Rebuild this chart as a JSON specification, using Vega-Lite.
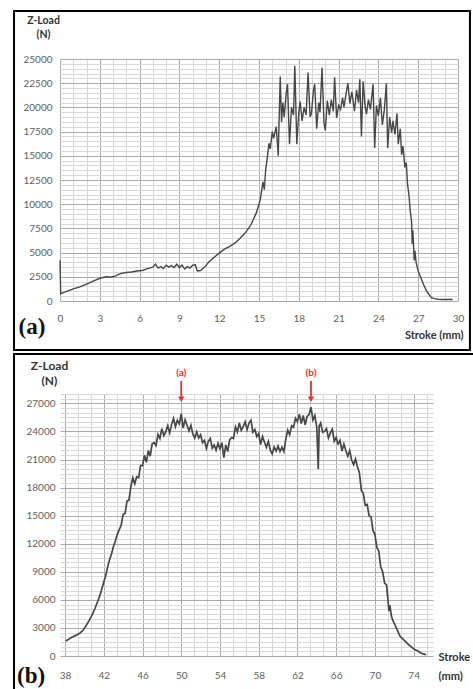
{
  "$schema": "https://vega.github.io/schema/vega-lite/v6.json",
  "background": "white",
  "padding": {"left": 13, "top": 9, "right": 0, "bottom": 0},
  "spacing": 0,
  "align": "none",
  "config": {
    "view": {"stroke": null},
    "font": "Lato",
    "axis": {"labelFont": "Lato", "titleFont": "Lato", "ticks": false, "domain": false, "labelColor": "#5e5e5e", "titleColor": "#333333", "labelFontSize": 10, "labelFlush": false, "labelOverlap": false, "labelBound": false, "gridWidth": 1}
  },
  "datasets": {
    "a": [
      {"x": 0, "y": 4200}, {"x": 0.05, "y": 750}, {"x": 0.3, "y": 900}, {"x": 0.6, "y": 1050}, {"x": 1.0, "y": 1250}, {"x": 1.5, "y": 1450}, {"x": 2.0, "y": 1750}, {"x": 2.5, "y": 2050}, {"x": 3.0, "y": 2350}, {"x": 3.5, "y": 2500}, {"x": 3.8, "y": 2450}, {"x": 4.2, "y": 2600}, {"x": 4.6, "y": 2850}, {"x": 5.0, "y": 2950}, {"x": 5.4, "y": 3000}, {"x": 5.8, "y": 3100}, {"x": 6.2, "y": 3150}, {"x": 6.6, "y": 3350}, {"x": 7.0, "y": 3500}, {"x": 7.2, "y": 3800}, {"x": 7.4, "y": 3400}, {"x": 7.6, "y": 3550}, {"x": 7.8, "y": 3350}, {"x": 8.0, "y": 3700}, {"x": 8.2, "y": 3500}, {"x": 8.4, "y": 3650}, {"x": 8.6, "y": 3450}, {"x": 8.8, "y": 3800}, {"x": 9.0, "y": 3450}, {"x": 9.2, "y": 3700}, {"x": 9.4, "y": 3300}, {"x": 9.6, "y": 3550}, {"x": 9.8, "y": 3400}, {"x": 10.0, "y": 3700}, {"x": 10.2, "y": 3750}, {"x": 10.35, "y": 3100}, {"x": 10.6, "y": 3150}, {"x": 10.9, "y": 3500}, {"x": 11.2, "y": 4000}, {"x": 11.6, "y": 4500}, {"x": 12.0, "y": 4950}, {"x": 12.4, "y": 5350}, {"x": 12.8, "y": 5650}, {"x": 13.2, "y": 6000}, {"x": 13.6, "y": 6500}, {"x": 14.0, "y": 7100}, {"x": 14.4, "y": 7900}, {"x": 14.8, "y": 9100}, {"x": 15.1, "y": 10500}, {"x": 15.3, "y": 12300}, {"x": 15.4, "y": 11500}, {"x": 15.5, "y": 13500}, {"x": 15.6, "y": 14500}, {"x": 15.75, "y": 16300}, {"x": 15.85, "y": 15700}, {"x": 16.0, "y": 17500}, {"x": 16.1, "y": 16800}, {"x": 16.3, "y": 18000}, {"x": 16.45, "y": 15000}, {"x": 16.6, "y": 23200}, {"x": 16.7, "y": 18500}, {"x": 16.8, "y": 20500}, {"x": 16.9, "y": 19000}, {"x": 17.05, "y": 21500}, {"x": 17.15, "y": 22400}, {"x": 17.3, "y": 16200}, {"x": 17.45, "y": 20000}, {"x": 17.6, "y": 19200}, {"x": 17.7, "y": 24300}, {"x": 17.85, "y": 16200}, {"x": 18.0, "y": 19500}, {"x": 18.1, "y": 20600}, {"x": 18.25, "y": 18600}, {"x": 18.4, "y": 20000}, {"x": 18.55, "y": 19200}, {"x": 18.7, "y": 23600}, {"x": 18.85, "y": 19000}, {"x": 18.95, "y": 19300}, {"x": 19.1, "y": 21700}, {"x": 19.2, "y": 22400}, {"x": 19.35, "y": 17800}, {"x": 19.5, "y": 20500}, {"x": 19.6, "y": 19500}, {"x": 19.75, "y": 24100}, {"x": 19.9, "y": 18400}, {"x": 20.0, "y": 17600}, {"x": 20.15, "y": 20700}, {"x": 20.3, "y": 19200}, {"x": 20.45, "y": 20800}, {"x": 20.6, "y": 19600}, {"x": 20.7, "y": 23100}, {"x": 20.85, "y": 18900}, {"x": 21.0, "y": 20200}, {"x": 21.15, "y": 19800}, {"x": 21.3, "y": 21000}, {"x": 21.4, "y": 20000}, {"x": 21.55, "y": 21300}, {"x": 21.7, "y": 22500}, {"x": 21.85, "y": 20400}, {"x": 22.0, "y": 21600}, {"x": 22.2, "y": 19600}, {"x": 22.35, "y": 21800}, {"x": 22.5, "y": 20500}, {"x": 22.6, "y": 22900}, {"x": 22.72, "y": 17000}, {"x": 22.85, "y": 22700}, {"x": 23.0, "y": 20100}, {"x": 23.1, "y": 19300}, {"x": 23.25, "y": 20800}, {"x": 23.4, "y": 19800}, {"x": 23.6, "y": 22400}, {"x": 23.72, "y": 15800}, {"x": 23.85, "y": 20200}, {"x": 24.0, "y": 19100}, {"x": 24.15, "y": 21000}, {"x": 24.3, "y": 18200}, {"x": 24.45, "y": 19800}, {"x": 24.6, "y": 22500}, {"x": 24.7, "y": 15800}, {"x": 24.85, "y": 19000}, {"x": 25.0, "y": 17400}, {"x": 25.1, "y": 18600}, {"x": 25.25, "y": 17200}, {"x": 25.4, "y": 19400}, {"x": 25.5, "y": 16200}, {"x": 25.65, "y": 17800}, {"x": 25.75, "y": 15100}, {"x": 25.85, "y": 16000}, {"x": 26.0, "y": 13800}, {"x": 26.1, "y": 14300}, {"x": 26.2, "y": 12000}, {"x": 26.3, "y": 11000}, {"x": 26.4, "y": 9300}, {"x": 26.5, "y": 8200}, {"x": 26.55, "y": 5900}, {"x": 26.6, "y": 7300}, {"x": 26.7, "y": 4200}, {"x": 26.75, "y": 5200}, {"x": 26.85, "y": 3900}, {"x": 27.0, "y": 3100}, {"x": 27.2, "y": 2400}, {"x": 27.4, "y": 1700}, {"x": 27.6, "y": 1100}, {"x": 27.8, "y": 700}, {"x": 28.0, "y": 350}, {"x": 28.2, "y": 250}, {"x": 28.5, "y": 180}, {"x": 28.8, "y": 160}, {"x": 29.2, "y": 150}, {"x": 29.6, "y": 150}
    ],
    "b": [
      {"x": 38.1, "y": 1600}, {"x": 38.4, "y": 1800}, {"x": 38.7, "y": 2000}, {"x": 39.0, "y": 2150}, {"x": 39.3, "y": 2300}, {"x": 39.6, "y": 2500}, {"x": 39.9, "y": 2800}, {"x": 40.2, "y": 3300}, {"x": 40.5, "y": 3800}, {"x": 40.8, "y": 4400}, {"x": 41.1, "y": 5100}, {"x": 41.4, "y": 5900}, {"x": 41.7, "y": 6800}, {"x": 42.0, "y": 7900}, {"x": 42.2, "y": 8600}, {"x": 42.4, "y": 9500}, {"x": 42.6, "y": 10300}, {"x": 42.8, "y": 10900}, {"x": 43.0, "y": 11700}, {"x": 43.2, "y": 12300}, {"x": 43.4, "y": 13000}, {"x": 43.6, "y": 13500}, {"x": 43.8, "y": 14000},
      {"x": 44.0, "y": 15150}, {"x": 44.2, "y": 15250}, {"x": 44.4, "y": 16550}, {"x": 44.6, "y": 16650}, {"x": 44.8, "y": 18100}, {"x": 45.0, "y": 19050}, {"x": 45.2, "y": 18400}, {"x": 45.4, "y": 19150}, {"x": 45.6, "y": 19050}, {"x": 45.8, "y": 20350}, {"x": 46.0, "y": 20350}, {"x": 46.2, "y": 21450}, {"x": 46.4, "y": 20700}, {"x": 46.6, "y": 21950}, {"x": 46.8, "y": 21350}, {"x": 47.0, "y": 22700}, {"x": 47.2, "y": 22800}, {"x": 47.4, "y": 22500}, {"x": 47.6, "y": 23700}, {"x": 47.8, "y": 23250}, {"x": 48.0, "y": 24300}, {"x": 48.2, "y": 23550}, {"x": 48.4, "y": 23950}, {"x": 48.6, "y": 24600}, {"x": 48.8, "y": 23850}, {"x": 49.0, "y": 24700}, {"x": 49.2, "y": 25400}, {"x": 49.4, "y": 24500}, {"x": 49.6, "y": 25200}, {"x": 49.8, "y": 24800}, {"x": 50.0, "y": 25900}, {"x": 50.2, "y": 24350}, {"x": 50.4, "y": 25250}, {"x": 50.6, "y": 24650}, {"x": 50.8, "y": 24050}, {"x": 51.0, "y": 24650}, {"x": 51.2, "y": 23700}, {"x": 51.4, "y": 23300}, {"x": 51.6, "y": 23950}, {"x": 51.8, "y": 23300}, {"x": 52.0, "y": 23650}, {"x": 52.2, "y": 22800}, {"x": 52.4, "y": 23050}, {"x": 52.6, "y": 22200}, {"x": 52.8, "y": 22950}, {"x": 53.0, "y": 23250}, {"x": 53.2, "y": 22200}, {"x": 53.4, "y": 22550}, {"x": 53.6, "y": 22000}, {"x": 53.8, "y": 22750}, {"x": 54.0, "y": 22150}, {"x": 54.2, "y": 22800}, {"x": 54.4, "y": 21200}, {"x": 54.6, "y": 22550}, {"x": 54.8, "y": 21850}, {"x": 55.0, "y": 23100}, {"x": 55.2, "y": 23350}, {"x": 55.4, "y": 23250}, {"x": 55.6, "y": 24480}, {"x": 55.8, "y": 23950}, {"x": 56.0, "y": 24900}, {"x": 56.2, "y": 24100}, {"x": 56.4, "y": 24500}, {"x": 56.6, "y": 25020}, {"x": 56.8, "y": 24180}, {"x": 57.0, "y": 24900}, {"x": 57.2, "y": 25200}, {"x": 57.4, "y": 23900}, {"x": 57.6, "y": 24200}, {"x": 57.8, "y": 23450}, {"x": 58.0, "y": 23750}, {"x": 58.2, "y": 22600}, {"x": 58.4, "y": 23450}, {"x": 58.6, "y": 22850}, {"x": 58.8, "y": 22300}, {"x": 59.0, "y": 22950}, {"x": 59.2, "y": 22000}, {"x": 59.4, "y": 21600}, {"x": 59.6, "y": 22350}, {"x": 59.8, "y": 21900}, {"x": 60.0, "y": 22450}, {"x": 60.2, "y": 21850}, {"x": 60.4, "y": 22300}, {"x": 60.6, "y": 21850}, {"x": 60.8, "y": 23200}, {"x": 61.0, "y": 24150}, {"x": 61.2, "y": 23650}, {"x": 61.4, "y": 24600}, {"x": 61.6, "y": 24450}, {"x": 61.8, "y": 25400}, {"x": 62.0, "y": 25050}, {"x": 62.2, "y": 25850}, {"x": 62.4, "y": 24850}, {"x": 62.6, "y": 25700}, {"x": 62.8, "y": 24700}, {"x": 63.0, "y": 25600}, {"x": 63.2, "y": 25800}, {"x": 63.4, "y": 26600}, {"x": 63.6, "y": 25200}, {"x": 63.8, "y": 25700}, {"x": 64.0, "y": 24400}, {"x": 64.15, "y": 20000}, {"x": 64.25, "y": 24600}, {"x": 64.4, "y": 24900}, {"x": 64.6, "y": 23900}, {"x": 64.8, "y": 24000}, {"x": 65.0, "y": 24300}, {"x": 65.2, "y": 23300}, {"x": 65.4, "y": 23850}, {"x": 65.6, "y": 24250}, {"x": 65.8, "y": 22950}, {"x": 66.0, "y": 23350}, {"x": 66.2, "y": 22650}, {"x": 66.4, "y": 23050}, {"x": 66.6, "y": 21900}, {"x": 66.8, "y": 22650}, {"x": 67.0, "y": 21950}, {"x": 67.2, "y": 21350}, {"x": 67.4, "y": 21950}, {"x": 67.6, "y": 20950}, {"x": 67.8, "y": 20450}, {"x": 68.0, "y": 21050}, {"x": 68.2, "y": 20200},
      {"x": 68.4, "y": 19600}, {"x": 68.6, "y": 17700}, {"x": 68.8, "y": 17400}, {"x": 69.0, "y": 16100}, {"x": 69.2, "y": 16200}, {"x": 69.4, "y": 15000}, {"x": 69.6, "y": 14850}, {"x": 69.8, "y": 13400}, {"x": 70.0, "y": 13000}, {"x": 70.2, "y": 11600}, {"x": 70.4, "y": 11200}, {"x": 70.6, "y": 9500}, {"x": 70.8, "y": 9000}, {"x": 71.0, "y": 7800}, {"x": 71.2, "y": 7600}, {"x": 71.35, "y": 6000}, {"x": 71.45, "y": 4800}, {"x": 71.55, "y": 5400}, {"x": 71.7, "y": 4300}, {"x": 71.85, "y": 3800}, {"x": 72.0, "y": 3500}, {"x": 72.3, "y": 2800}, {"x": 72.6, "y": 2100}, {"x": 72.9, "y": 1800}, {"x": 73.2, "y": 1500}, {"x": 73.5, "y": 1200}, {"x": 73.8, "y": 950}, {"x": 74.1, "y": 700}, {"x": 74.4, "y": 550}, {"x": 74.7, "y": 350}, {"x": 75.0, "y": 220}, {"x": 75.3, "y": 130}
    ],
    "ann": [{"x": 50, "label": "(a)"}, {"x": 63.4, "label": "(b)"}]
  },
  "vconcat": [
    {
      "width": 398,
      "height": 242,
      "encoding": {
        "x": {
          "type": "quantitative",
          "scale": {"domain": [0, 30], "nice": false, "zero": false},
          "axis": {
            "values": [0,0.5,1,1.5,2,2.5,3,3.5,4,4.5,5,5.5,6,6.5,7,7.5,8,8.5,9,9.5,10,10.5,11,11.5,12,12.5,13,13.5,14,14.5,15,15.5,16,16.5,17,17.5,18,18.5,19,19.5,20,20.5,21,21.5,22,22.5,23,23.5,24,24.5,25,25.5,26,26.5,27,27.5,28,28.5,29,29.5,30],
            "format": "d",
            "labelExpr": "datum.value % 3 === 0 ? datum.label : ''",
            "labelOverlap": false, "labelFlush": false, "labelBound": false,
            "grid": true,
            "gridColor": {"condition": {"test": "datum.value % 3 === 0", "value": "#ababab"}, "value": "#d8d8d8"},
            "labelPadding": 12,
            "title": "Stroke (mm)", "titleFontSize": 11, "titleFontWeight": "bold",
            "titleX": 403, "titleY": 34, "titleAlign": "right", "titleBaseline": "middle"
          }
        },
        "y": {
          "type": "quantitative",
          "scale": {"domain": [0, 25000], "nice": false, "zero": false},
          "axis": {
            "values": [0,500,1000,1500,2000,2500,3000,3500,4000,4500,5000,5500,6000,6500,7000,7500,8000,8500,9000,9500,10000,10500,11000,11500,12000,12500,13000,13500,14000,14500,15000,15500,16000,16500,17000,17500,18000,18500,19000,19500,20000,20500,21000,21500,22000,22500,23000,23500,24000,24500,25000],
            "format": "d",
            "labelExpr": "datum.value % 2500 === 0 ? datum.label : ''",
            "labelOverlap": false, "labelFlush": false, "labelBound": false,
            "grid": true,
            "gridColor": {"condition": {"test": "datum.value % 2500 === 0", "value": "#ababab"}, "value": "#d8d8d8"},
            "labelPadding": 8,
            "title": ["Z-Load", "(N)"], "titleAngle": 0, "titleX": -17, "titleY": -36,
            "titleAlign": "center", "titleBaseline": "alphabetic", "titleFontSize": 10.5,
            "titleFontWeight": "bold", "titleLineHeight": 14
          }
        }
      },
      "layer": [
        {
          "data": {"name": "a"},
          "mark": {"type": "line", "color": "#474747", "strokeWidth": 1.4},
          "encoding": {"x": {"field": "x"}, "y": {"field": "y"}}
        },
        {
          "data": {"values": [{}]},
          "mark": {"type": "rect", "fill": "transparent", "stroke": "#000000", "strokeWidth": 2},
          "encoding": {"x": {"datum": -3.467}, "x2": {"datum": 30.9}, "y": {"datum": -5062}, "y2": {"datum": 29959}}
        },
        {
          "data": {"values": [{"t": "(a)"}]},
          "mark": {"type": "text", "font": "Liberation Serif", "fontWeight": "bold", "fontSize": 23, "align": "center", "baseline": "middle", "color": "#111111"},
          "encoding": {"x": {"datum": -2.11}, "y": {"datum": -2686}, "text": {"field": "t"}}
        }
      ]
    },
    {
      "width": 373,
      "height": 262,
      "encoding": {
        "x": {
          "type": "quantitative",
          "scale": {"domain": [37.48, 76], "nice": false, "zero": false},
          "axis": {
            "values": [38,38.6667,39.3333,40,40.6667,41.3333,42,42.6667,43.3333,44,44.6667,45.3333,46,46.6667,47.3333,48,48.6667,49.3333,50,50.6667,51.3333,52,52.6667,53.3333,54,54.6667,55.3333,56,56.6667,57.3333,58,58.6667,59.3333,60,60.6667,61.3333,62,62.6667,63.3333,64,64.6667,65.3333,66,66.6667,67.3333,68,68.6667,69.3333,70,70.6667,71.3333,72,72.6667,73.3333,74,74.6667,75.3333,76],
            "format": "d",
            "labelExpr": "abs((datum.value - 38) / 4 - round((datum.value - 38) / 4)) < 0.01 ? datum.label : ''",
            "labelOverlap": false, "labelFlush": false, "labelBound": false,
            "grid": true,
            "gridColor": {"condition": {"test": "abs((datum.value - 38) / 4 - round((datum.value - 38) / 4)) < 0.01", "value": "#ababab"}, "value": "#d8d8d8"},
            "labelPadding": 14,
            "title": ["Stroke", "(mm)"], "titleFontSize": 11, "titleFontWeight": "bold",
            "titleX": 378, "titleY": 4, "titleAlign": "left", "titleBaseline": "alphabetic", "titleLineHeight": 19
          }
        },
        "y": {
          "type": "quantitative",
          "scale": {"domain": [0, 28000], "nice": false, "zero": false},
          "axis": {
            "values": [0,500,1000,1500,2000,2500,3000,3500,4000,4500,5000,5500,6000,6500,7000,7500,8000,8500,9000,9500,10000,10500,11000,11500,12000,12500,13000,13500,14000,14500,15000,15500,16000,16500,17000,17500,18000,18500,19000,19500,20000,20500,21000,21500,22000,22500,23000,23500,24000,24500,25000,25500,26000,26500,27000,27500,28000],
            "format": "d",
            "labelExpr": "datum.value % 3000 === 0 ? datum.label : ''",
            "labelOverlap": false, "labelFlush": false, "labelBound": false,
            "grid": true,
            "gridColor": {"condition": {"test": "datum.value % 3000 === 0", "value": "#ababab"}, "value": "#d8d8d8"},
            "labelPadding": 5,
            "title": ["Z-Load", "(N)"], "titleAngle": 0, "titleX": -11, "titleY": -25,
            "titleAlign": "center", "titleBaseline": "alphabetic", "titleFontSize": 12,
            "titleFontWeight": "bold", "titleLineHeight": 15
          }
        }
      },
      "layer": [
        {
          "data": {"name": "b"},
          "mark": {"type": "line", "color": "#474747", "strokeWidth": 1.7},
          "encoding": {"x": {"field": "x"}, "y": {"field": "y"}}
        },
        {
          "data": {"values": [{}]},
          "mark": {"type": "rect", "fill": "transparent", "stroke": "#000000", "strokeWidth": 2},
          "encoding": {"x": {"datum": 32.73}, "x2": {"datum": 80.44}, "y": {"datum": -4489}, "y2": {"datum": 32275}}
        },
        {
          "data": {"values": [{"t": "(b)"}]},
          "mark": {"type": "text", "font": "Liberation Serif", "fontWeight": "bold", "fontSize": 23, "align": "center", "baseline": "middle", "color": "#111111"},
          "encoding": {"x": {"datum": 34.49}, "y": {"datum": -2137}, "text": {"field": "t"}}
        },
        {
          "data": {"name": "ann"},
          "mark": {"type": "text", "fontSize": 10, "fontWeight": "bold", "color": "#e4312f", "align": "center", "baseline": "middle"},
          "encoding": {"x": {"field": "x"}, "y": {"datum": 30250}, "text": {"field": "label"}}
        },
        {
          "data": {"name": "ann"},
          "mark": {"type": "rule", "color": "#e4312f", "strokeWidth": 1.8},
          "encoding": {"x": {"field": "x"}, "y": {"datum": 29400}, "y2": {"datum": 27700}}
        },
        {
          "data": {"name": "ann"},
          "mark": {"type": "point", "shape": "triangle-down", "filled": true, "size": 40, "color": "#e4312f", "opacity": 1},
          "encoding": {"x": {"field": "x"}, "y": {"datum": 27450}}
        }
      ]
    }
  ]
}
